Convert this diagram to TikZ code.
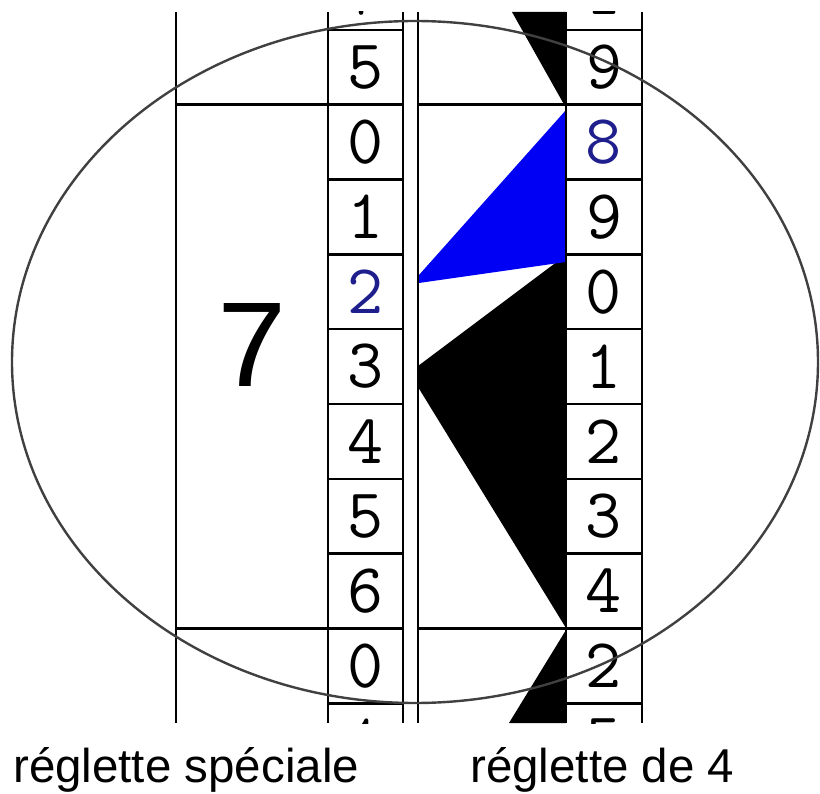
\documentclass[tikz,border=0pt]{standalone}
\usepackage{fontspec}
\setmainfont{Liberation Sans}
\newfontfamily\bigdigit{Liberation Mono}
\definecolor{digitblue}{RGB}{30,30,140}
\definecolor{fillblue}{RGB}{0,0,245}
\tikzset{
 rule/.style={line width=2.6pt},
 cellnum/.style={font=\ttfamily\fontsize{70}{70}\selectfont,inner sep=0pt},
 bignum/.style={font=\bigdigit\fontsize{126}{126}\selectfont,inner sep=0pt},
 caption/.style={font=\fontsize{47.5}{47.5}\selectfont,anchor=base west,inner sep=0pt},
 lens/.style={draw=black!75,line width=2.4pt},
}

\begin{document}
\begin{tikzpicture}[x=1pt,y=-1pt]
\useasboundingbox (0,0) rectangle (820,794);
% triangles of the reglette de 4
\fill (512,12) -- (566,12) -- (566,108) -- cycle;
\fill (566,255) -- (418,366) -- (418,387) -- (566,628) -- cycle;
\fill[fillblue] (566,110) -- (419,275) -- (419,283) -- (566,262) -- cycle;
\fill (566,630) -- (566,723) -- (509,723) -- cycle;
% frame
\foreach \x in {176,328,403,418,566,642}
  \draw[rule] (\x,12) -- (\x,723);
\foreach \k in {0,...,9}{
  \draw[rule] (328,30+74.8*\k) -- (403,30+74.8*\k);
  \draw[rule] (566,30+74.8*\k) -- (642,30+74.8*\k);
}
\foreach \k in {1,8}{
  \draw[rule] (176,30+74.8*\k) -- (403,30+74.8*\k);
  \draw[rule] (418,30+74.8*\k) -- (566,30+74.8*\k);
}
% digits
\foreach \d/\c [count=\i from 0] in {5/black,0/black,1/black,2/digitblue,3/black,4/black,5/black,6/black,0/black}
  \node[cellnum,text=\c] (s\i) at (365.5,{30+74.8*(\i+0.5)}) {\d};
\foreach \d/\c [count=\i from 0] in {9/black,8/digitblue,9/black,0/black,1/black,2/black,3/black,4/black,2/black}
  \node[cellnum,text=\c] (r\i) at (604,{30+74.8*(\i+0.5)}) {\d};
\begin{scope}
  \clip (328,12) rectangle (642,723);
  \node[cellnum] (stop) at (365.5,{30-74.8*0.5}) {7};
  \node[cellnum] (rtop) at (604,{30-74.8*0.5}) {1};
  \node[cellnum] (sbot) at (365.5,{30+74.8*9.5}) {1};
  \node[cellnum] (rbot) at (604,{30+74.8*9.5}) {5};
\end{scope}
\node[bignum] (seven) at (252,345) {7};
% magnifier
\draw[lens] (415,362) ellipse [x radius=403, y radius=341];
% captions
\node[caption] (special) at (13,782) {réglette spéciale};
\node[caption] (four) at (470,782) {réglette de 4};
\end{tikzpicture}
\end{document}
